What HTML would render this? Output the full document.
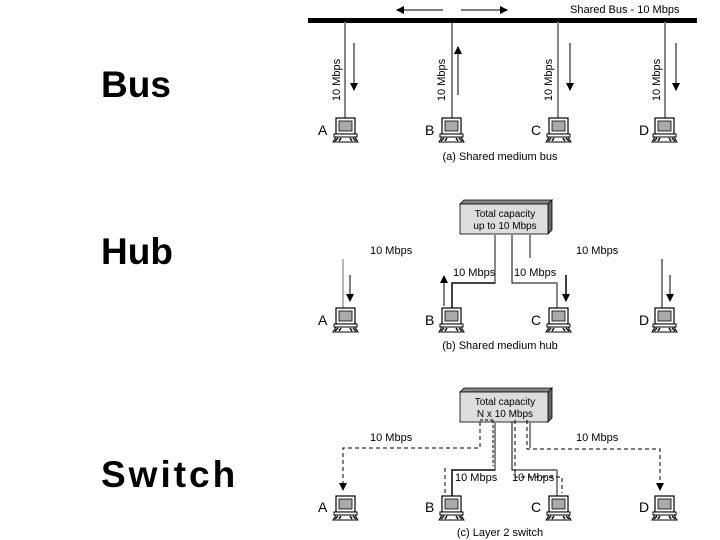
<!DOCTYPE html>
<html><head><meta charset="utf-8"><style>
html,body{margin:0;padding:0;background:#fff;width:720px;height:540px;overflow:hidden}
.big{position:absolute;font-family:"Liberation Sans",Arial,sans-serif;font-weight:bold;font-size:37px;color:#000;line-height:1}
</style></head><body>
<div class="big" style="left:101px;top:66px">Bus</div>
<div class="big" style="left:101px;top:233px">Hub</div>
<div class="big" style="left:101px;top:456px;letter-spacing:3px">Switch</div>
<svg width="720" height="540" style="position:absolute;left:0;top:0" font-family="Liberation Sans, Arial, sans-serif" font-size="11" fill="#000">
<defs>
<marker id="ah" markerWidth="8" markerHeight="8" refX="7" refY="4" orient="auto" markerUnits="userSpaceOnUse"><path d="M0,0 L8,4 L0,8 z" fill="#000"/></marker>
<g id="pc">
<rect x="3" y="0" width="19" height="16" fill="#fff" stroke="#000" stroke-width="1.2"/>
<rect x="6" y="3" width="13" height="10" fill="#aaa" stroke="#000" stroke-width="0.8"/>
<rect x="1" y="16" width="23" height="3" fill="#fff" stroke="#000" stroke-width="1"/>
<path d="M0,24 L3,19 L22,19 L25,24 z" fill="#fff" stroke="#000" stroke-width="1"/>
<path d="M2,23 L5,20 M6,23 L8,20 M17,20 L19,23 M20,20 L23,23" stroke="#000" stroke-width="1.4"/>
</g>
<g id="box">
<path d="M0,4 L4,0 L92,0 L88,4 z" fill="#888" stroke="#000" stroke-width="0.8"/>
<path d="M88,4 L92,0 L92,30 L88,34 z" fill="#666" stroke="#000" stroke-width="0.8"/>
<rect x="0" y="4" width="88" height="30" fill="#ddd" stroke="#000" stroke-width="0.8"/>
</g>
</defs>

<!-- (a) bus -->
<rect x="308" y="18" width="389" height="5" fill="#000"/>
<line x1="443" y1="10" x2="397" y2="10" stroke="#555" stroke-width="1.5" marker-end="url(#ah)"/>
<line x1="461" y1="10" x2="507" y2="10" stroke="#555" stroke-width="1.5" marker-end="url(#ah)"/>
<text x="570" y="13">Shared Bus - 10 Mbps</text>
<line x1="345" y1="22" x2="345" y2="118" stroke="#888" stroke-width="2"/>
<line x1="452" y1="22" x2="452" y2="118" stroke="#000" stroke-width="1"/>
<line x1="558" y1="22" x2="558" y2="118" stroke="#888" stroke-width="2"/>
<line x1="665" y1="22" x2="665" y2="118" stroke="#888" stroke-width="2"/>
<line x1="354" y1="43" x2="354" y2="90" stroke="#555" stroke-width="1.5" marker-end="url(#ah)"/>
<line x1="458" y1="95" x2="458" y2="47" stroke="#555" stroke-width="1.5" marker-end="url(#ah)"/>
<line x1="570" y1="43" x2="570" y2="90" stroke="#555" stroke-width="1.5" marker-end="url(#ah)"/>
<line x1="676" y1="43" x2="676" y2="90" stroke="#555" stroke-width="1.5" marker-end="url(#ah)"/>
<text transform="translate(340,80) rotate(-90)" text-anchor="middle">10 Mbps</text>
<text transform="translate(445,80) rotate(-90)" text-anchor="middle">10 Mbps</text>
<text transform="translate(552,80) rotate(-90)" text-anchor="middle">10 Mbps</text>
<text transform="translate(660,80) rotate(-90)" text-anchor="middle">10 Mbps</text>
<g font-size="14"><text x="318" y="135">A</text><text x="425" y="135">B</text><text x="531" y="135">C</text><text x="639" y="135">D</text></g>
<use href="#pc" x="333" y="118"/><use href="#pc" x="439" y="118"/><use href="#pc" x="546" y="118"/><use href="#pc" x="652" y="118"/>
<text x="500" y="160" text-anchor="middle">(a) Shared medium bus</text>

<!-- (b) hub -->
<use href="#box" x="460" y="200"/>
<text x="505" y="217" text-anchor="middle" font-size="10">Total capacity</text>
<text x="505" y="229" text-anchor="middle" font-size="10">up to 10 Mbps</text>
<path d="M495,235 V283 H452 V308" fill="none" stroke="#888" stroke-width="2"/>
<path d="M495,283 H452 V308" fill="none" stroke="#000" stroke-width="1"/>
<path d="M512,235 V283 H557 V308" fill="none" stroke="#000" stroke-width="1"/>
<line x1="557" y1="283" x2="557" y2="308" stroke="#888" stroke-width="2"/>
<line x1="530" y1="235" x2="530" y2="258" stroke="#888" stroke-width="2"/>
<line x1="343" y1="259" x2="343" y2="308" stroke="#888" stroke-width="1.2"/>
<line x1="662" y1="259" x2="662" y2="308" stroke="#000" stroke-width="1"/>
<line x1="350" y1="275" x2="350" y2="301" stroke="#000" stroke-width="1" marker-end="url(#ah)"/>
<line x1="444" y1="306" x2="444" y2="276" stroke="#000" stroke-width="1" marker-end="url(#ah)"/>
<line x1="566" y1="275" x2="566" y2="301" stroke="#000" stroke-width="1.5" marker-end="url(#ah)"/>
<line x1="670" y1="275" x2="670" y2="301" stroke="#000" stroke-width="1" marker-end="url(#ah)"/>
<text x="370" y="254">10 Mbps</text><text x="576" y="254">10 Mbps</text>
<text x="453" y="276">10 Mbps</text><text x="514" y="276">10 Mbps</text>
<g font-size="14"><text x="318" y="325">A</text><text x="425" y="325">B</text><text x="531" y="325">C</text><text x="639" y="325">D</text></g>
<use href="#pc" x="333" y="308"/><use href="#pc" x="439" y="308"/><use href="#pc" x="546" y="308"/><use href="#pc" x="652" y="308"/>
<text x="500" y="349" text-anchor="middle">(b) Shared medium hub</text>

<!-- (c) switch -->
<use href="#box" x="460" y="388"/>
<text x="505" y="405" text-anchor="middle" font-size="10">Total capacity</text>
<text x="505" y="417" text-anchor="middle" font-size="10">N x 10 Mbps</text>
<path d="M495,422 V470 H452 V496" fill="none" stroke="#888" stroke-width="2"/>
<path d="M495,470 H452 V496" fill="none" stroke="#000" stroke-width="1"/>
<path d="M512,422 V470 H557 V496" fill="none" stroke="#000" stroke-width="1"/>
<line x1="557" y1="470" x2="557" y2="496" stroke="#888" stroke-width="2"/>
<line x1="530" y1="422" x2="530" y2="448" stroke="#888" stroke-width="2"/>
<path d="M480,422 V448 H343 V490" fill="none" stroke="#000" stroke-width="1" stroke-dasharray="4,3" marker-end="url(#ah)"/>
<path d="M480,420 H493" fill="none" stroke="#000" stroke-width="1" stroke-dasharray="3,2"/>
<path d="M493,420 V466" fill="none" stroke="#000" stroke-width="1" stroke-dasharray="3,2"/>
<line x1="445" y1="468" x2="445" y2="495" stroke="#000" stroke-width="1" stroke-dasharray="4,3"/>
<path d="M515,420 V477 H562 V493" fill="none" stroke="#000" stroke-width="1" stroke-dasharray="4,3"/>
<path d="M527,420 V449 H660 V490" fill="none" stroke="#000" stroke-width="1" stroke-dasharray="4,3" marker-end="url(#ah)"/>
<text x="370" y="441">10 Mbps</text><text x="576" y="441">10 Mbps</text>
<text x="455" y="481">10 Mbps</text><text x="512" y="481">10 Mbps</text>
<g font-size="14"><text x="318" y="512">A</text><text x="425" y="512">B</text><text x="531" y="512">C</text><text x="639" y="512">D</text></g>
<use href="#pc" x="333" y="496"/><use href="#pc" x="439" y="496"/><use href="#pc" x="546" y="496"/><use href="#pc" x="652" y="496"/>
<text x="500" y="536" text-anchor="middle">(c) Layer 2 switch</text>
</svg>
</body></html>
